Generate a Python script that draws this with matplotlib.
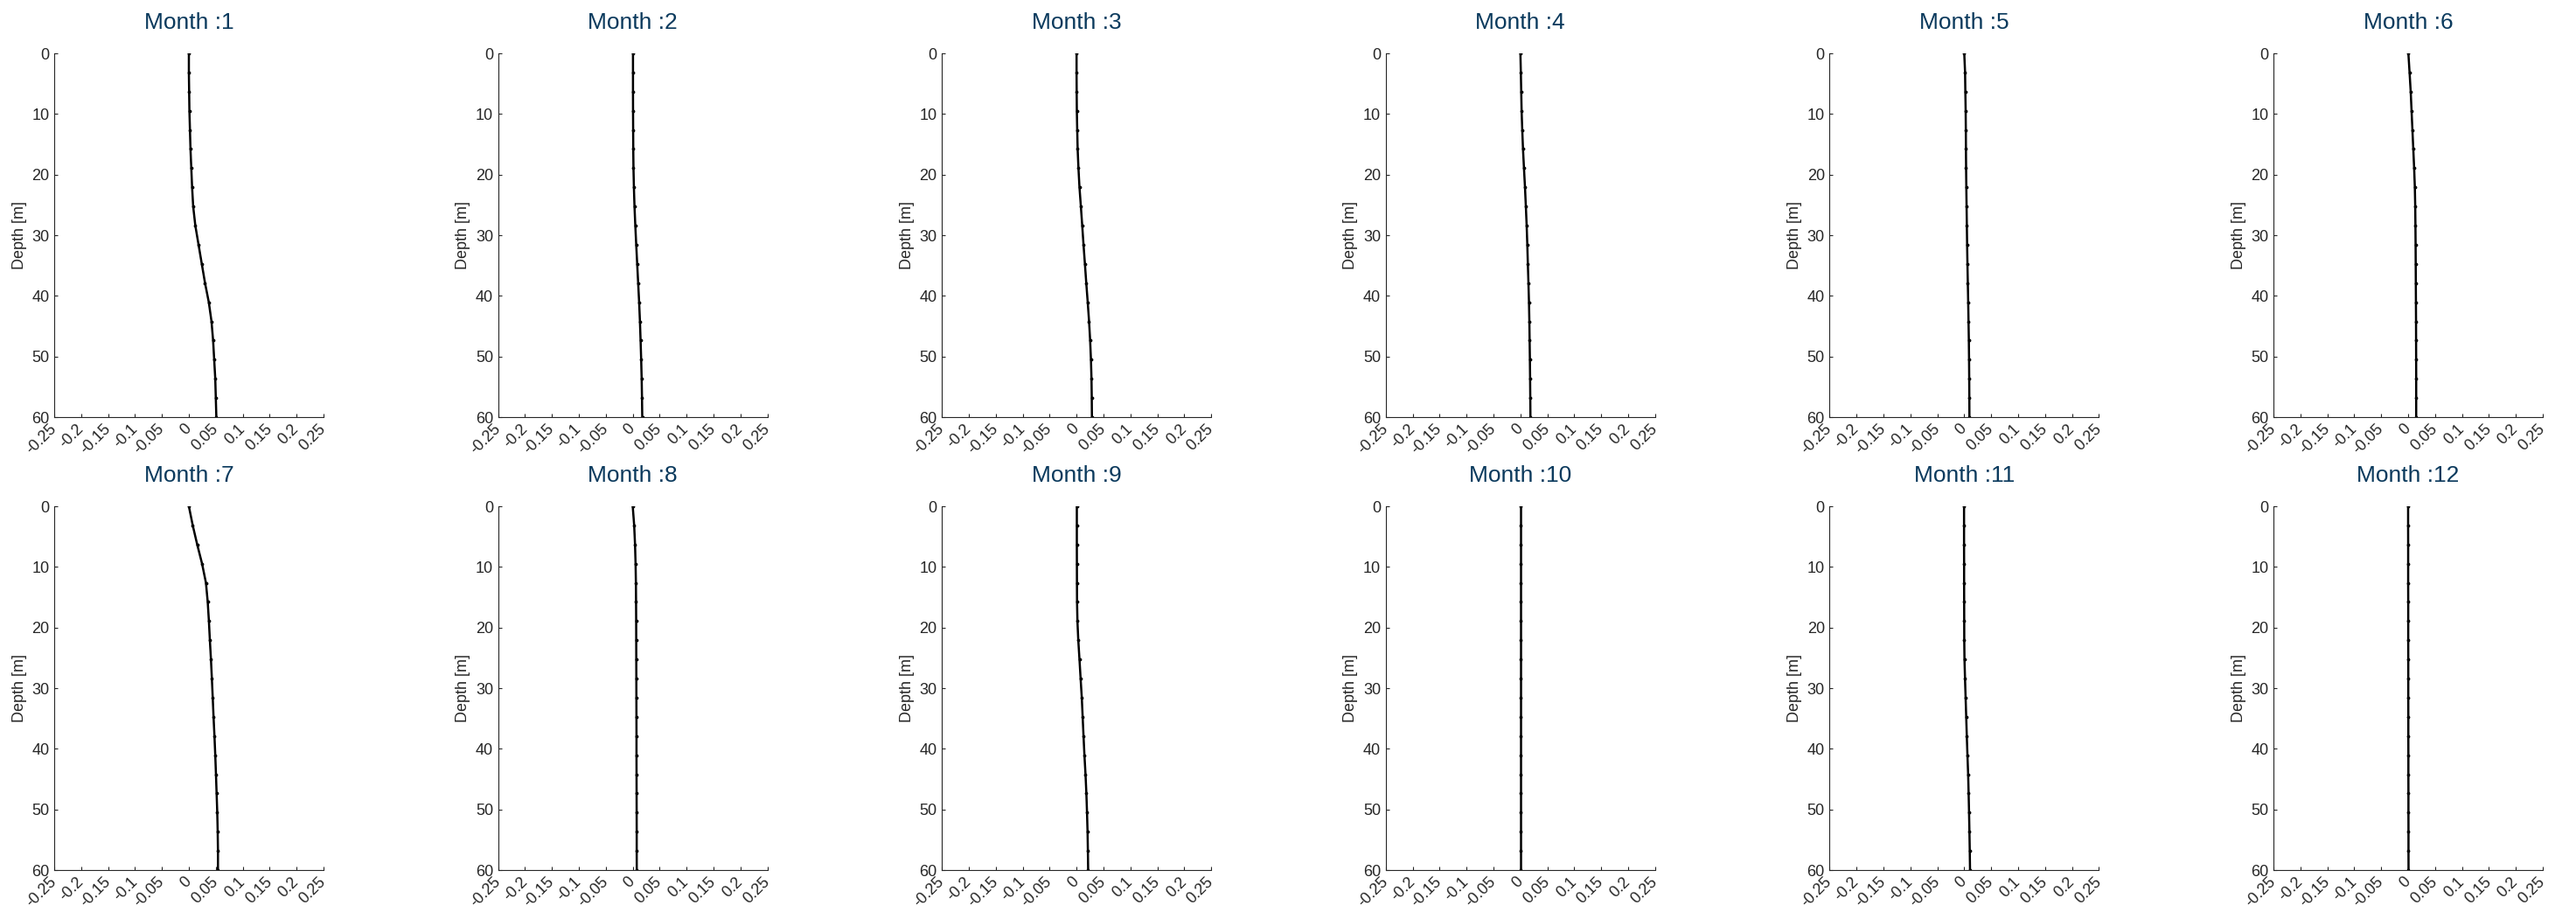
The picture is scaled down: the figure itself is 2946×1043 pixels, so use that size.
import numpy as np
import matplotlib
matplotlib.use("Agg")
import matplotlib.pyplot as plt
from matplotlib.transforms import ScaledTranslation

plt.rcParams['font.family'] = ['Liberation Sans', 'DejaVu Sans']

# Depth levels of the profiles [m]
depth = [0.0, 3.16, 6.32, 9.47, 12.63, 15.79, 18.95, 22.11, 25.26, 28.42,
         31.58, 34.74, 37.89, 41.05, 44.21, 47.37, 50.53, 53.68, 56.84, 60.0]

# Monthly profiles, one value per depth level
m01 = [0.0, 0.0, 0.0005, 0.001, 0.002, 0.003, 0.0045, 0.006, 0.008, 0.012,
       0.018, 0.024, 0.030, 0.037, 0.042, 0.045, 0.047, 0.049, 0.050, 0.051]
m02 = [0.0005, 0.0005, 0.0005, 0.0006, 0.0008, 0.001, 0.0014, 0.0022, 0.0033, 0.0048,
       0.0065, 0.0083, 0.0101, 0.0119, 0.0134, 0.0146, 0.0157, 0.0166, 0.0172, 0.0177]
m03 = [0.0, 0.0, 0.0002, 0.0005, 0.0012, 0.002, 0.0035, 0.0054, 0.008, 0.0105,
       0.0129, 0.0155, 0.018, 0.0207, 0.0232, 0.0252, 0.0267, 0.0277, 0.0282, 0.0285]
m04 = [0.0, 0.0008, 0.0015, 0.0022, 0.0034, 0.0048, 0.0066, 0.0085, 0.0101, 0.0116,
       0.0128, 0.0138, 0.0149, 0.0159, 0.0166, 0.0171, 0.0176, 0.0180, 0.0183, 0.0186]
m05 = [0.0, 0.0015, 0.002, 0.0026, 0.0029, 0.0031, 0.0034, 0.0038, 0.0043, 0.0048,
       0.0053, 0.0059, 0.0066, 0.0073, 0.0079, 0.0085, 0.0089, 0.0092, 0.0094, 0.0096]
m06 = [0.0005, 0.0027, 0.0048, 0.0064, 0.008, 0.0096, 0.0112, 0.0125, 0.0132, 0.0136,
       0.0139, 0.0141, 0.0143, 0.0145, 0.0147, 0.0148, 0.0149, 0.0150, 0.0150, 0.0150]
m07 = [0.0, 0.0072, 0.0155, 0.0245, 0.0317, 0.035, 0.0372, 0.039, 0.041, 0.0427,
       0.0443, 0.0458, 0.0475, 0.049, 0.0503, 0.0515, 0.0527, 0.0535, 0.054, 0.054]
m08 = [0.0, 0.0027, 0.0043, 0.0053, 0.0059, 0.0062, 0.0064, 0.0065, 0.0066, 0.0067,
       0.0068, 0.0069, 0.007, 0.007, 0.0071, 0.0072, 0.0073, 0.0074, 0.0074, 0.0075]
m09 = [0.0005, 0.0005, 0.0005, 0.0006, 0.0007, 0.0009, 0.0016, 0.0032, 0.0054, 0.0075,
       0.0097, 0.0113, 0.0129, 0.0146, 0.0166, 0.0182, 0.0194, 0.0204, 0.021, 0.0215]
m10 = [0.0005, 0.0005, 0.0005, 0.0005, 0.0005, 0.0005, 0.0005, 0.0005, 0.0005, 0.0005,
       0.0005, 0.0005, 0.0005, 0.0005, 0.0005, 0.0005, 0.0005, 0.0005, 0.0005, 0.0005]
m11 = [-0.0004, -0.0004, -0.0004, -0.0003, -0.0003, -0.0002, -0.0001, 0.0, 0.0004, 0.0014,
       0.0025, 0.0036, 0.0047, 0.0059, 0.0072, 0.0081, 0.0089, 0.0096, 0.0102, 0.0107]
m12 = [0.0, 0.0, 0.0001, 0.0001, 0.0001, 0.0002, 0.0002, 0.0002, 0.0003, 0.0003,
       0.0003, 0.0004, 0.0004, 0.0005, 0.0005, 0.0006, 0.0006, 0.0007, 0.0007, 0.0008]
profiles = [m01, m02, m03, m04, m05, m06, m07, m08, m09, m10, m11, m12]

x_ticks = [-0.25, -0.2, -0.15, -0.1, -0.05, 0, 0.05, 0.1, 0.15, 0.2, 0.25]
x_labels = ['-0.25', '-0.2', '-0.15', '-0.1', '-0.05', '0', '0.05', '0.1', '0.15', '0.2', '0.25']
y_ticks = [0, 10, 20, 30, 40, 50, 60]

axis_col = '#262626'
title_col = '#0b3a5d'

W, H = 2946, 1043
fig = plt.figure(figsize=(W / 100, H / 100), dpi=100)

ax_w = 308 / W
ax_h = 416 / H
row_bottom = [1 - 477 / H, 1 - 995 / H]

# nudge the rotated x labels a little to the right of their ticks
shift = ScaledTranslation(4 / 72, 0, fig.dpi_scale_trans)

for i, prof in enumerate(profiles):
    row, col = divmod(i, 6)
    left = (62 + 507.6 * col) / W
    ax = fig.add_axes([left, row_bottom[row], ax_w, ax_h])

    ax.plot(prof, depth, color='black', lw=1.8, marker='.', ms=3.5)

    ax.set_xlim(-0.25, 0.25)
    ax.set_ylim(60, 0)
    ax.set_xticks(x_ticks)
    ax.set_xticklabels(x_labels, rotation=45, ha='right', va='center',
                       rotation_mode='anchor')
    for lab in ax.get_xticklabels():
        lab.set_transform(lab.get_transform() + shift)
    ax.set_yticks(y_ticks)

    for s in ['top', 'right']:
        ax.spines[s].set_visible(False)
    for s in ['left', 'bottom']:
        ax.spines[s].set_color(axis_col)
        ax.spines[s].set_linewidth(0.8)

    ax.tick_params(axis='both', direction='in', length=3, width=0.8,
                   colors=axis_col, labelsize=13)
    ax.tick_params(axis='x', pad=8)
    ax.tick_params(axis='y', pad=4)

    ax.set_ylabel('Depth [m]', fontsize=13, color=axis_col, labelpad=4)
    ax.set_title(f'Month :{i + 1}', fontsize=19, color=title_col, pad=20)

fig.savefig('out.png', dpi=100, facecolor='white')
